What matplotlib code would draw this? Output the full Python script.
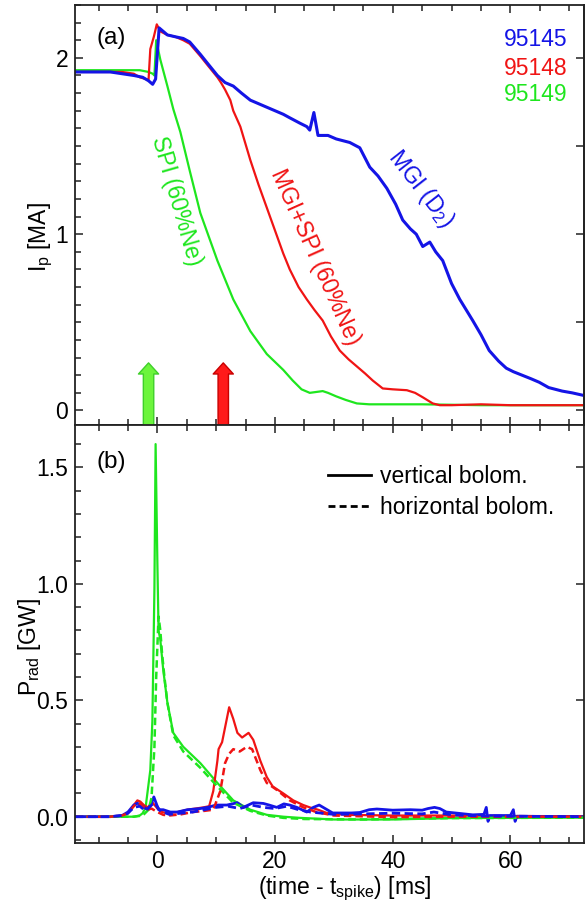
import numpy as np
import matplotlib
matplotlib.use("Agg")
import matplotlib.pyplot as plt
from matplotlib.lines import Line2D
from matplotlib.ticker import MultipleLocator, NullLocator, FormatStrFormatter

plt.rcParams['font.family'] = ['Liberation Sans', 'DejaVu Sans']
plt.rcParams['mathtext.default'] = 'regular'

# ---- colours per shot ----
c_blue = '#1414e6'    # 95145
c_red = '#f01414'     # 95148
c_green = '#1ee61e'   # 95149

shots = ['95145', '95148', '95149']

# ---- panel (a): plasma current Ip [MA] ----
t_ip_blue = [-14, -8, -6, -4, -2.5, -1.5, -0.8, -0.3, 0.3, 1.7, 3, 4.4, 5.5, 7.3, 8.5, 10.2, 11.5,
             12.9, 14.3, 15.8, 17.2, 18.6, 20, 21.4, 22.5, 24.2, 25.4, 25.9, 26.6, 27.3, 29, 30.4,
             32.7, 34.4, 36.1, 37.5, 39, 40.5, 41.7, 43, 44, 45.1, 46.3, 47.3, 48.5, 50, 51.4, 52.5,
             53.6, 55, 56.4, 58, 59.3, 60.5, 62, 63.5, 64.9, 66.5, 68.8, 70.5, 72.5]
ip_blue = [1.92, 1.92, 1.91, 1.90, 1.89, 1.87, 1.85, 1.88, 2.17, 2.13, 2.12, 2.11, 2.09, 2.02, 1.97,
           1.90, 1.86, 1.84, 1.80, 1.76, 1.74, 1.72, 1.70, 1.68, 1.66, 1.63, 1.61, 1.59, 1.69, 1.56,
           1.56, 1.54, 1.52, 1.49, 1.38, 1.33, 1.26, 1.17, 1.08, 1.03, 1.00, 0.93, 0.955, 0.90, 0.85,
           0.72, 0.63, 0.57, 0.51, 0.43, 0.34, 0.28, 0.24, 0.22, 0.20, 0.18, 0.16, 0.13, 0.11, 0.10,
           0.085]

t_ip_red = [-14, -6, -4, -3, -2, -1.5, -1.2, -0.6, -0.1, 0.5, 1.7, 3, 4.4, 5.5, 7.3, 8.5, 10.2, 10.8,
            11.5, 12.4, 12.9, 14.1, 15.8, 17.2, 18.6, 20, 21.4, 22.5, 24, 25.4, 26.7, 28.1, 29.5, 31,
            32.5, 33.9, 35.3, 36.6, 38.3, 40, 42.4, 43.8, 45.1, 46.8, 48, 50, 55, 60, 65, 72.5]
ip_red = [1.92, 1.92, 1.91, 1.89, 1.88, 1.875, 2.05, 2.12, 2.19, 2.15, 2.13, 2.12, 2.10, 2.08, 2.01,
          1.96, 1.89, 1.86, 1.82, 1.76, 1.70, 1.61, 1.42, 1.28, 1.15, 1.02, 0.89, 0.80, 0.70, 0.63,
          0.57, 0.51, 0.42, 0.34, 0.29, 0.25, 0.21, 0.17, 0.125, 0.12, 0.115, 0.10, 0.075, 0.04,
          0.03, 0.03, 0.035, 0.03, 0.03, 0.03]

t_ip_green = [-14, -6, -3, -1.5, -0.8, -0.5, -0.2, 0.5, 1.7, 2.7, 3.9, 5.5, 7.3, 10.2, 12.9, 15.8,
              18.6, 21.4, 23, 24.5, 25.9, 27, 28.1, 29, 30.4, 32, 33.9, 36, 45, 55, 72.5]
ip_green = [1.93, 1.93, 1.93, 1.92, 1.91, 1.90, 2.10, 1.99, 1.84, 1.71, 1.58, 1.36, 1.12, 0.85, 0.63,
            0.45, 0.32, 0.23, 0.17, 0.12, 0.10, 0.105, 0.11, 0.10, 0.08, 0.06, 0.04, 0.035, 0.035,
            0.03, 0.03]

# injection times (arrows)
t_inj_spi = -1.5
t_inj_mgi_spi = 11.2

# ---- panel (b): radiated power [GW], vertical (solid) / horizontal (dashed) bolometer ----
t_pv_green = [-14, -6, -4, -3, -2.5, -2, -1.7, -1.2, -0.85, -0.5, -0.3, 0, 0.2, 0.5, 1.0, 1.7, 2.7,
              4.4, 7.3, 10.2, 12.9, 15.8, 18.6, 21.4, 24.2, 30, 40, 50, 72.5]
pv_green = [0, 0, 0.0, 0.005, 0.015, 0.04, 0.1, 0.2, 0.41, 0.98, 1.60, 1.09, 0.80, 0.76, 0.63, 0.49,
            0.36, 0.30, 0.23, 0.145, 0.07, 0.03, 0.008, 0.0, -0.005, -0.012, -0.012, -0.006, -0.004]
t_ph_green = [-14, -4, -2.5, -1.5, -1.0, -0.5, -0.2, 0.2, 0.5, 0.8, 1.2, 1.7, 2.7, 4.4, 7.3, 10.2,
              12.9, 15.8, 18.6, 21.4, 25, 35, 50, 72.5]
ph_green = [0, 0, 0.005, 0.03, 0.08, 0.3, 0.6, 0.86, 0.80, 0.70, 0.60, 0.49, 0.35, 0.28, 0.21, 0.13,
            0.06, 0.025, 0.005, -0.005, -0.01, -0.012, -0.006, -0.004]

t_pv_red = [-14, -8, -6, -5, -4, -3.4, -2.9, -2.3, -1.7, -0.8, 0, 0.8, 1.7, 3.4, 5.1, 6.5, 7.8, 8.8,
            9.5, 10.2, 10.4, 11, 11.8, 12.2, 12.9, 13.6, 14.4, 15.5, 16.3, 17.5, 18.6, 19.6, 21.4,
            23.1, 24.8, 25.9, 27.3, 28.8, 32, 40, 50, 60, 72.5]
pv_red = [0, 0, 0.005, 0.015, 0.05, 0.07, 0.065, 0.05, 0.04, 0.06, 0.035, 0.02, 0.015, 0.02, 0.03,
          0.035, 0.04, 0.045, 0.11, 0.24, 0.29, 0.32, 0.42, 0.47, 0.42, 0.36, 0.34, 0.36, 0.33, 0.24,
          0.17, 0.13, 0.10, 0.07, 0.05, 0.04, 0.03, 0.016, 0.008, 0.005, 0.005, 0.003, 0.002]
t_ph_red = [-14, -8, -6, -5, -4, -3.4, -2.9, -2.3, -1.7, -1, 0, 1, 2, 4, 6, 8, 9.5, 10.7, 11.5, 12.2,
            12.9, 14, 15.2, 16.1, 17.5, 18.6, 20.3, 22.5, 24.8, 27, 30, 40, 50, 60, 72.5]
ph_red = [0, 0, 0.005, 0.015, 0.045, 0.06, 0.055, 0.04, 0.03, 0.035, 0.02, 0.008, 0.005, 0.01, 0.02,
          0.025, 0.03, 0.11, 0.23, 0.27, 0.29, 0.28, 0.30, 0.29, 0.20, 0.145, 0.115, 0.07, 0.04,
          0.02, 0.005, -0.002, 0.0, 0.0, 0.0]

t_pv_blue = [-14, -8, -6, -5, -4, -3.4, -2.5, -1.7, -1.1, -0.6, 0.2, 1, 2.2, 3.4, 5.1, 7.3, 8.5, 10,
             11.8, 13.6, 14.6, 16.3, 18, 19, 20.3, 21.5, 22.5, 23.7, 25.4, 26.5, 27.5, 29.8, 33,
             34.4, 36, 37.3, 40, 43, 45, 46, 47.1, 48, 49.1, 51, 53.6, 55.5, 55.9, 56.2, 56.5, 58,
             60, 60.5, 60.8, 61.1, 62, 65, 72.5]
pv_blue = [0, 0, 0.005, 0.02, 0.05, 0.058, 0.045, 0.03, 0.05, 0.085, 0.03, 0.03, 0.02, 0.02, 0.03,
           0.035, 0.04, 0.05, 0.05, 0.06, 0.04, 0.06, 0.057, 0.05, 0.04, 0.055, 0.05, 0.04, 0.02,
           0.04, 0.05, 0.016, 0.016, 0.018, 0.03, 0.033, 0.028, 0.03, 0.028, 0.035, 0.04, 0.035,
           0.02, 0.015, 0.008, 0.01, 0.04, -0.02, 0.005, 0.005, 0.005, 0.03, -0.02, 0.002, 0.002,
           0.001, 0.0]
t_ph_blue = [-14, -8, -6, -5, -4, -3, -2, -1, -0.5, 0.5, 2, 4, 6, 8, 10, 12, 14, 16, 18, 20, 22, 24,
             26, 28, 30, 35, 40, 45, 47, 50, 55, 60, 72.5]
ph_blue = [0, 0, 0.005, 0.015, 0.04, 0.045, 0.025, 0.05, 0.06, 0.025, 0.01, 0.015, 0.02, 0.03, 0.04,
           0.045, 0.035, 0.05, 0.04, 0.035, 0.045, 0.03, 0.02, 0.015, 0.01, 0.012, 0.015, 0.012,
           0.02, 0.008, 0.003, 0.002, 0.0]

FS = 16.5
dash = (3, 1.6)

fig = plt.figure(figsize=(5.85, 9.02), dpi=100)
ax1 = fig.add_axes([0.1282, 0.5283, 0.870, 0.4662])
ax2 = fig.add_axes([0.1282, 0.0654, 0.870, 0.4629], sharex=ax1)

# panel (a)
ax1.plot(t_ip_green, ip_green, color=c_green, lw=1.6)
ax1.plot(t_ip_red, ip_red, color=c_red, lw=1.6)
ax1.plot(t_ip_blue, ip_blue, color=c_blue, lw=2.2)

arrow_kw = dict(arrowstyle='simple,head_width=1.45,head_length=0.8,tail_width=0.75',
                shrinkA=0, shrinkB=0, mutation_scale=10)
ax1.annotate('', xy=(t_inj_spi, 0.27), xytext=(t_inj_spi, -0.085), annotation_clip=False,
             arrowprops=dict(fc='#6cf53c', ec='#3fcf2a', lw=1, **arrow_kw))
ax1.annotate('', xy=(t_inj_mgi_spi, 0.27), xytext=(t_inj_mgi_spi, -0.085), annotation_clip=False,
             arrowprops=dict(fc='#ff1a1a', ec='#c80000', lw=1, **arrow_kw))

ax1.text(3.2, 1.19, 'SPI (60%Ne)', color=c_green, fontsize=FS, rotation=-74,
         rotation_mode='anchor', ha='center', va='center')
ax1.text(26.8, 0.87, 'MGI+SPI (60%Ne)', color=c_red, fontsize=FS, rotation=-66,
         rotation_mode='anchor', ha='center', va='center')
ax1.text(44.8, 1.26, 'MGI (D$_2$)', color=c_blue, fontsize=FS, rotation=-52,
         rotation_mode='anchor', ha='center', va='center')

ax1.text(0.043, 0.921, '(a)', transform=ax1.transAxes, fontsize=17.5, va='center', ha='left')
for name, col, yy in zip(shots, [c_blue, c_red, c_green], [0.917, 0.850, 0.786]):
    ax1.text(0.9686, yy, name, color=col, transform=ax1.transAxes, fontsize=FS,
             ha='right', va='center')

ax1.set_ylim(-0.085, 2.3)
ax1.set_xlim(-14, 72.5)
ax1.yaxis.set_major_locator(MultipleLocator(1))
ax1.yaxis.set_minor_locator(MultipleLocator(0.1))
ax1.set_ylabel('I$_p$ [MA]', fontsize=FS)
ax1.yaxis.set_label_coords(-0.04, 0.448)
sec1 = ax1.secondary_yaxis('right')
sec1.set_yticks([0, 0.5, 1, 1.5, 2])
sec1.yaxis.set_minor_locator(NullLocator())
sec1.tick_params(direction='in', length=6, width=1.1, labelright=False, color='#222222')
for s in sec1.spines.values():
    s.set_linewidth(1.3)
    s.set_color('#222222')

# panel (b)
for t, p, col, lw in [(t_pv_green, pv_green, c_green, 1.6), (t_pv_red, pv_red, c_red, 1.6),
                      (t_pv_blue, pv_blue, c_blue, 2.0)]:
    ax2.plot(t, p, color=col, lw=lw)
for t, p, col, lw in [(t_ph_green, ph_green, c_green, 1.8), (t_ph_red, ph_red, c_red, 1.8),
                      (t_ph_blue, ph_blue, c_blue, 2.0)]:
    ax2.plot(t, p, color=col, lw=lw, dashes=dash)

ax2.text(0.043, 0.913, '(b)', transform=ax2.transAxes, fontsize=17.5, va='center', ha='left')
handles = [Line2D([], [], color='black', lw=2),
           Line2D([], [], color='black', lw=2, dashes=(2.5, 1.5))]
ax2.legend(handles, ['vertical bolom.', 'horizontal bolom.'], loc='upper left',
           bbox_to_anchor=(0.497, 0.905), frameon=False, fontsize=FS, borderpad=0,
           borderaxespad=0, handlelength=1.9, handletextpad=0.35, labelspacing=0.35)

ax2.set_ylim(-0.113, 1.68)
ax2.yaxis.set_major_locator(MultipleLocator(0.5))
ax2.yaxis.set_minor_locator(MultipleLocator(0.1))
ax2.yaxis.set_major_formatter(FormatStrFormatter('%.1f'))
ax2.xaxis.set_major_locator(MultipleLocator(20))
ax2.xaxis.set_minor_locator(MultipleLocator(5))
ax2.set_ylabel('P$_{rad}$ [GW]', fontsize=FS)
ax2.yaxis.set_label_coords(-0.063, 0.47)
ax2.set_xlabel('(time - t$_{spike}$) [ms]', fontsize=FS)
ax2.xaxis.set_label_coords(0.53, -0.075)

for ax in (ax1, ax2):
    ax.tick_params(which='both', direction='in', top=True, labelsize=FS, pad=5,
                   color='#222222', width=1.1)
    ax.tick_params(which='major', length=6)
    ax.tick_params(which='minor', length=4)
    for s in ax.spines.values():
        s.set_linewidth(1.3)
        s.set_color('#222222')
ax1.tick_params(labelbottom=False)
ax2.tick_params(axis='y', which='major', right=True)

fig.savefig('out.png', dpi=100)
